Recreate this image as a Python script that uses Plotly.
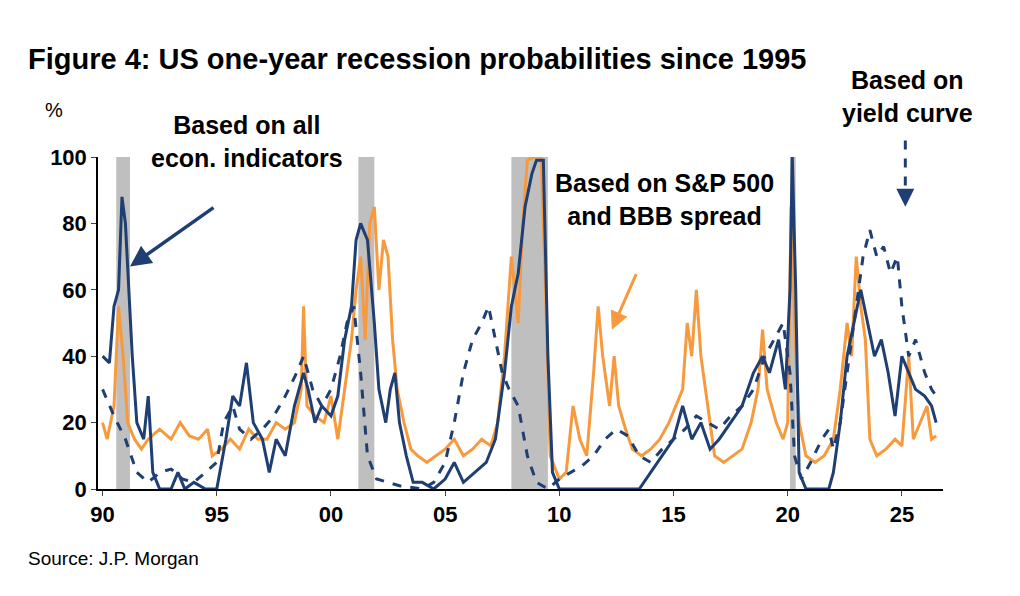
import plotly.graph_objects as go

# Recession periods (start, end) in fractional years
rec_start = [1990.6, 2001.2, 2007.9, 2020.1]
rec_end = [1991.2, 2001.9, 2009.5, 2020.35]

# Based on all economic indicators (solid navy)
econ_x = [1990.0, 1990.3, 1990.5, 1990.7, 1990.85, 1991.0, 1991.3, 1991.5, 1991.8, 1992.0, 1992.2, 1992.5, 1993.0, 1993.3, 1993.6, 1994.0, 1994.5, 1995.0, 1995.4, 1995.7, 1996.0, 1996.3, 1996.6, 1997.0, 1997.3, 1997.6, 1998.0, 1998.4, 1998.8, 1999.0, 1999.3, 1999.6, 2000.0, 2000.3, 2000.6, 2000.9, 2001.1, 2001.3, 2001.6, 2001.9, 2002.1, 2002.4, 2002.6, 2002.8, 2003.0, 2003.3, 2003.6, 2004.0, 2004.5, 2005.0, 2005.4, 2005.8, 2006.3, 2006.8, 2007.2, 2007.6, 2007.9, 2008.2, 2008.5, 2008.8, 2009.0, 2009.3, 2009.5, 2009.7, 2010.0, 2011.0, 2012.0, 2013.0, 2013.5, 2014.0, 2014.5, 2015.0, 2015.4, 2015.8, 2016.2, 2016.6, 2017.0, 2017.5, 2018.0, 2018.5, 2018.9, 2019.2, 2019.6, 2019.9, 2020.1, 2020.2, 2020.35, 2020.5, 2020.8, 2021.0, 2021.5, 2021.8, 2022.0, 2022.3, 2022.6, 2022.9, 2023.2, 2023.5, 2023.8, 2024.1, 2024.4, 2024.7, 2025.0, 2025.3, 2025.6, 2026.0, 2026.3, 2026.5]
econ_y = [40, 38, 55, 60, 88, 80, 40, 20, 15, 28, 5, 0, 0, 5, 0, 2, 0, 0, 15, 28, 25, 38, 20, 15, 5, 15, 10, 25, 35, 30, 20, 25, 22, 28, 45, 55, 75, 80, 75, 50, 30, 20, 30, 35, 20, 10, 2, 2, 0, 3, 8, 2, 5, 8, 15, 35, 55, 65, 85, 95, 99, 99, 40, 5, 0, 0, 0, 0, 0, 5, 10, 15, 25, 15, 20, 12, 15, 20, 25, 35, 40, 35, 45, 30, 60, 100, 60, 5, 0, 0, 0, 0, 5, 20, 40, 50, 60, 50, 40, 45, 35, 22, 40, 35, 30, 28, 25, 20]

# Based on yield curve (dashed navy)
yc_x = [1990.0, 1990.5, 1991.0, 1991.5, 1992.0, 1992.5, 1993.0, 1993.5, 1994.0, 1994.5, 1995.0, 1995.3, 1995.7, 1996.0, 1996.5, 1997.0, 1997.5, 1998.0, 1998.5, 1998.8, 1999.2, 1999.6, 2000.0, 2000.4, 2000.7, 2001.0, 2001.3, 2001.6, 2002.0, 2002.5, 2003.0, 2004.0, 2004.5, 2005.0, 2005.4, 2005.8, 2006.2, 2006.6, 2006.9, 2007.2, 2007.5, 2007.8, 2008.2, 2008.6, 2009.0, 2009.5, 2010.0, 2010.5, 2011.0, 2011.5, 2012.0, 2012.5, 2013.0, 2013.5, 2014.0, 2014.5, 2015.0, 2015.5, 2016.0, 2016.5, 2017.0, 2017.5, 2018.0, 2018.5, 2019.0, 2019.4, 2019.8, 2020.1, 2020.3, 2020.6, 2021.0, 2021.5, 2021.8, 2022.0, 2022.3, 2022.7, 2023.0, 2023.3, 2023.6, 2023.9, 2024.2, 2024.5, 2024.8, 2025.0, 2025.3, 2025.6, 2026.0, 2026.3, 2026.5]
yc_y = [30, 22, 15, 5, 2, 5, 6, 3, 2, 5, 8, 20, 25, 18, 15, 18, 22, 28, 35, 40, 30, 25, 30, 40, 50, 55, 35, 10, 3, 2, 1, 0, 2, 8, 20, 35, 45, 50, 55, 45, 35, 30, 25, 10, 2, 0, 3, 5, 7, 10, 15, 18, 16, 10, 8, 12, 15, 18, 22, 20, 18, 22, 25, 30, 40, 45, 50, 35, 10, 3, 8, 15, 18, 12, 20, 40, 55, 70, 78, 70, 73, 65, 70, 55, 40, 45, 35, 30, 28]

# Based on S&P 500 and BBB spread (orange)
sp_x = [1990.0, 1990.2, 1990.5, 1990.7, 1990.9, 1991.1, 1991.4, 1991.7, 1992.0, 1992.5, 1993.0, 1993.4, 1993.8, 1994.2, 1994.6, 1994.8, 1995.2, 1995.6, 1996.0, 1996.4, 1996.8, 1997.2, 1997.6, 1998.0, 1998.4, 1998.7, 1998.8, 1998.95, 1999.3, 1999.7, 2000.0, 2000.3, 2000.6, 2000.9, 2001.1, 2001.3, 2001.5, 2001.7, 2001.9, 2002.1, 2002.3, 2002.5, 2002.7, 2002.9, 2003.2, 2003.5, 2003.8, 2004.2, 2004.6, 2005.0, 2005.4, 2005.8, 2006.2, 2006.6, 2007.0, 2007.3, 2007.6, 2007.9, 2008.2, 2008.4, 2008.6, 2008.9, 2009.2, 2009.4, 2009.6, 2010.0, 2010.3, 2010.6, 2010.9, 2011.2, 2011.5, 2011.7, 2011.9, 2012.2, 2012.4, 2012.6, 2012.9, 2013.2, 2013.6, 2014.0, 2014.4, 2014.8, 2015.1, 2015.4, 2015.6, 2015.8, 2016.0, 2016.2, 2016.5, 2016.8, 2017.2, 2017.6, 2018.0, 2018.4, 2018.7, 2018.9, 2019.1, 2019.5, 2019.8, 2020.0, 2020.15, 2020.3, 2020.5, 2020.8, 2021.2, 2021.6, 2022.0, 2022.3, 2022.6, 2022.8, 2023.0, 2023.2, 2023.4, 2023.6, 2023.9, 2024.3, 2024.7, 2025.0, 2025.3, 2025.5, 2025.8, 2026.1, 2026.3, 2026.5]
sp_y = [20, 15, 25, 55, 40, 20, 15, 12, 15, 18, 15, 20, 16, 15, 18, 10, 12, 15, 12, 18, 15, 15, 20, 18, 20, 30, 55, 25, 22, 20, 28, 15, 30, 45, 60, 70, 45, 80, 85, 60, 75, 70, 45, 30, 20, 12, 10, 8, 10, 12, 15, 10, 12, 15, 13, 20, 40, 70, 50, 80, 99, 100, 100, 60, 10, 3, 5, 25, 15, 10, 35, 55, 40, 25, 40, 25, 18, 12, 10, 12, 15, 20, 25, 30, 50, 40, 60, 40, 25, 10, 8, 10, 12, 20, 30, 48, 30, 20, 15, 20, 85, 50, 20, 10, 8, 10, 15, 30, 50, 40, 70, 55, 45, 15, 10, 12, 15, 13, 40, 15, 20, 25, 15, 16]

tick_vals = [1990, 1995, 2000, 2005, 2010, 2015, 2020, 2025]
tick_text = ["90", "95", "00", "05", "10", "15", "20", "25"]

NAVY = "#1f3f73"
ORANGE = "#f79a3e"
FONT = "Liberation Sans, Arial"

fig = go.Figure()
for s, e in zip(rec_start, rec_end):
    fig.add_vrect(x0=s, x1=e, y0=0, y1=1, fillcolor="#bfbfbf", line_width=0, layer="below")

fig.add_trace(go.Scatter(x=sp_x, y=sp_y, mode="lines", line=dict(color=ORANGE, width=3)))
fig.add_trace(go.Scatter(x=yc_x, y=yc_y, mode="lines", line=dict(color=NAVY, width=3, dash="dash")))
fig.add_trace(go.Scatter(x=econ_x, y=econ_y, mode="lines", line=dict(color=NAVY, width=3)))

bold = dict(family=FONT, size=25, color="black")
tickfont = dict(family=FONT, size=22, color="black", weight="bold")
fig.update_layout(
    width=1020, height=596, showlegend=False,
    paper_bgcolor="white", plot_bgcolor="white",
    margin=dict(l=90, r=85, t=149, b=115),
    font=dict(family=FONT, color="black"),
    xaxis=dict(range=[1989.8, 2026.8], tickvals=tick_vals, ticktext=tick_text,
               tickfont=tickfont, showgrid=False,
               showline=True, linecolor="black", linewidth=1.5, ticks="outside", ticklen=5,
               zeroline=False),
    yaxis=dict(range=[0, 100], tickvals=[0, 20, 40, 60, 80, 100],
               tickfont=tickfont, showgrid=False,
               showline=True, linecolor="black", linewidth=1.5, ticks="outside", ticklen=5,
               zeroline=False),
)

fig.add_annotation(text="<b>Figure 4: US one-year recession probabilities since 1995</b>",
                   xref="paper", yref="paper", x=-0.085, y=1.295, xanchor="left", yanchor="middle",
                   showarrow=False, font=dict(family=FONT, size=29, color="black"))
fig.add_annotation(text="%", xref="paper", yref="paper", x=-0.065, y=1.18, xanchor="left",
                   showarrow=False, font=dict(family=FONT, size=20, color="black"))
fig.add_annotation(text="Source: J.P. Morgan", xref="paper", yref="paper", x=-0.085, y=-0.208,
                   xanchor="left", yanchor="middle", showarrow=False,
                   font=dict(family=FONT, size=19, color="black"))

fig.add_annotation(text="<b>Based on all<br>econ. indicators</b>", xref="paper", yref="paper",
                   x=0.176, y=1.145, xanchor="center", showarrow=False, font=bold)
fig.add_annotation(x=1991.2, y=67, ax=85, ay=-60, text="", showarrow=True,
                   arrowhead=2, arrowsize=1.2, arrowwidth=3.5, arrowcolor=NAVY)

fig.add_annotation(text="<b>Based on S&P 500<br>and BBB spread</b>", xref="paper", yref="paper",
                   x=0.671, y=0.97, xanchor="center", showarrow=False, font=bold)
fig.add_annotation(x=2012.3, y=48, ax=25, ay=-57, text="", showarrow=True,
                   arrowhead=2, arrowsize=1.2, arrowwidth=3, arrowcolor=ORANGE)

fig.add_annotation(text="<b>Based on<br>yield curve</b>", xref="paper", yref="paper",
                   x=0.958, y=1.28, xanchor="center", showarrow=False, font=bold)
fig.add_shape(type="line", x0=2025.15, x1=2025.15, xref="x", yref="paper", y0=1.05, y1=0.9,
              line=dict(color=NAVY, width=3, dash="dash"))
fig.add_annotation(x=2025.15, y=85, ax=0, ay=-15, text="", showarrow=True,
                   arrowhead=2, arrowsize=1.2, arrowwidth=3, arrowcolor=NAVY)

fig.write_html("out.html")
